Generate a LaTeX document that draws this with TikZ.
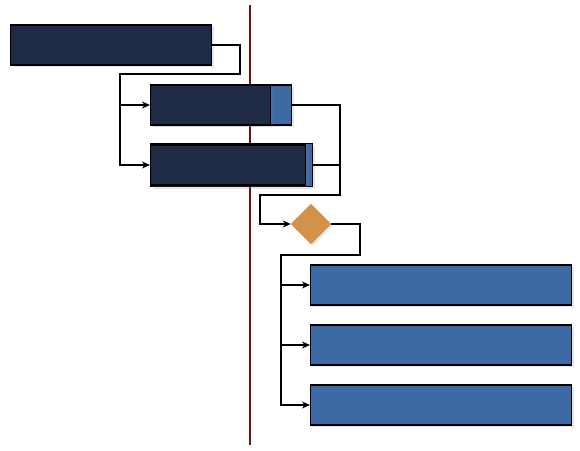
\documentclass[tikz,border=0pt]{standalone}
\usetikzlibrary{shapes.geometric,shadows,arrows.meta}
\definecolor{navy}{HTML}{1F2A45}
\definecolor{steel}{HTML}{3D6AA5}
\definecolor{ochre}{HTML}{D4914A}
\definecolor{deadline}{HTML}{7A1010}
\tikzset{
  task/.style={draw=black, fill=steel, line width=1.1pt, minimum height=40pt,
    inner sep=0pt, anchor=west,
    drop shadow={opacity=0.2, shadow xshift=2pt, shadow yshift=-2pt}},
  done/.style={task, fill=navy},
  gate/.style={diamond, fill=ochre, draw=ochre, minimum size=40pt, inner sep=0pt,
    drop shadow={opacity=0.2, shadow xshift=2pt, shadow yshift=-2pt}},
  flow/.style={-{Stealth[length=8pt,width=7pt]}, line width=1.1pt},
  link/.style={line width=1.1pt},
}
\begin{document}
\begin{tikzpicture}[x=1pt,y=-1pt]
\useasboundingbox (0,0) rectangle (580,450);
\draw[deadline, line width=1.2pt] (250,5) -- (250,445);
% tasks
\node[done, minimum width=201pt] (t1) at (10,45) {};
\node[task, minimum width=141pt] (t2) at (150,105) {};
\node[done, minimum width=120pt] (t2p) at (150,105) {};
\node[task, minimum width=162pt, minimum height=43pt] (t3) at (150,165) {};
\node[done, minimum width=155pt] (t3p) at (150,165) {};
\node[gate] (m) at (311,224) {};
\node[task, minimum width=261pt] (t4) at (310,285) {};
\node[task, minimum width=261pt] (t5) at (310,345) {};
\node[task, minimum width=261pt] (t6) at (310,405) {};
% bends
\coordinate (b1) at (240,74);
\coordinate (b2) at (120,74);
\coordinate (b3) at (340,195);
\coordinate (b4) at (260,195);
\coordinate (b5) at (360,255);
\coordinate (b6) at (281,255);
% links
\draw[flow] (t1.east) -| (b1) -- (b2) |- (t2.west);
\draw[flow] (b2) |- (t3.west);
\draw[flow] (t2.east) -| (b3) -- (b4) |- (m.west);
\draw[link] (t3.east) -- (t3.east -| b3);
\draw[flow] (m.east) -| (b5) -- (b6) |- (t4.west);
\draw[flow] (b6) |- (t5.west);
\draw[flow] (b6) |- (t6.west);
\end{tikzpicture}
\end{document}
